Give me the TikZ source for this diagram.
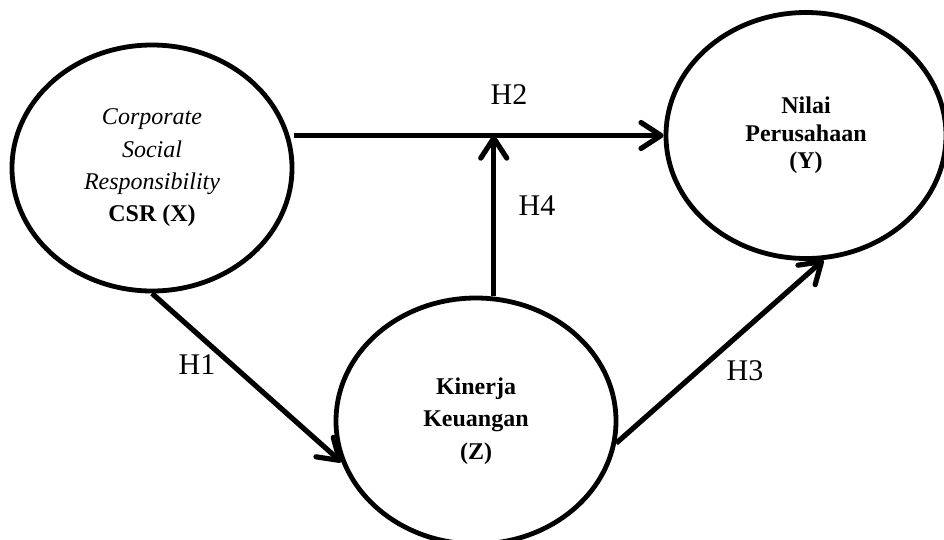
\documentclass[tikz,border=0pt]{standalone}
\usepackage{fontspec}
\setmainfont{Liberation Serif}
\usepackage{tikz}
\usetikzlibrary{shapes,arrows,positioning,calc,arrows.meta}

\begin{document}
\begin{tikzpicture}[x=1pt,y=-1pt,
    var/.style={draw, ellipse, line width=4.8pt, minimum width=280pt, minimum height=246pt, inner sep=0pt, align=center, font=\fontsize{24}{32.3}\selectfont},
    arr/.style={line width=5.2pt, -{Straight Barb[length=20pt,width=26pt,round]}},
    hyp/.style={inner sep=0pt, font=\fontsize{30}{36}\selectfont}]
    \useasboundingbox (0,0) rectangle (944,539);

    % variabel
    \node[var] (csr) at (152,168) {
        \textit{Corporate}\\
        \textit{Social}\\
        \textit{Responsibility}\\
        \textbf{CSR (X)}
    };
    \node[var, font=\fontsize{24}{27.5}\selectfont\bfseries] (nilai) at (806,135.5) {
        Nilai\\
        Perusahaan\\
        (Y)
    };
    \node[var, font=\fontsize{24}{32.3}\selectfont\bfseries] (kinerja) at (476,421) {
        Kinerja\\
        Keuangan\\
        (Z)
    };

    % hubungan
    \coordinate (mod) at ($(csr.east |- nilai.west)!0.54!(nilai.west)$);
    \draw[arr] (csr.east |- nilai.west) -- (nilai.west);
    \draw[arr] (mod |- kinerja.north) -- (mod);
    \draw[arr] (csr.south) -- (kinerja.197);
    \draw[arr] (kinerja.-9) -- (nilai.-82);

    % hipotesis
    \node[hyp] (h1) at (197,365) {H1};
    \node[hyp] (h2) at (509,95) {H2};
    \node[hyp] (h3) at (745,371) {H3};
    \node[hyp] (h4) at (537,206) {H4};
\end{tikzpicture}
\end{document}
